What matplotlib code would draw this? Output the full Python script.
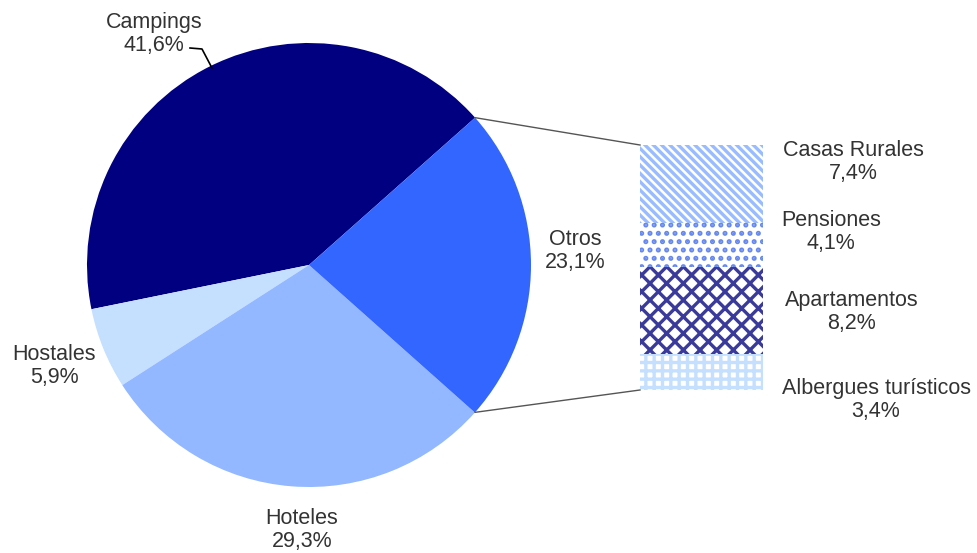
import matplotlib.pyplot as plt
import matplotlib as mpl
import numpy as np

plt.rcParams['font.family'] = ['Liberation Sans', 'DejaVu Sans']
mpl.rcParams['hatch.linewidth'] = 2.4

# Pie data
pie_labels = ['Campings', 'Hostales', 'Hoteles', 'Otros']
pie_values = [41.6, 5.9, 29.3, 23.1]
pie_colors = ['#000080', '#C5DFFF', '#93B8FF', '#3366FF']

# Breakdown of "Otros"
bar_labels = ['Casas Rurales', 'Pensiones', 'Apartamentos', 'Albergues turísticos']
bar_values = [7.4, 4.1, 8.2, 3.4]
bar_hatch_colors = ['#99BBFF', '#6688EE', '#3A3A9A', '#C5DFFF']
bar_hatches = ['\\\\\\\\', '..', 'xx', '++']

W, H = 978, 553
fig = plt.figure(figsize=(W / 100, H / 100), dpi=100)
ax = fig.add_axes([0, 0, 1, 1])

cx, cy, r = 309, H - 265, 222
start = 360 * pie_values[3] / 100 / 2
wedges, _ = ax.pie(pie_values, colors=pie_colors, startangle=start, counterclock=True,
                   center=(cx, cy), radius=r, frame=True)
ax.set_xlim(0, W)
ax.set_ylim(0, H)
ax.set_aspect('equal')
ax.axis('off')

# stacked bar in pixel units: 23.1% -> 245 px
scale = 245 / sum(bar_values)
bar_x, bar_w, bar_top = 640, 123, H - 145
y = bar_top
for v, hc, ht in zip(bar_values, bar_hatch_colors, bar_hatches):
    hgt = v * scale
    ax.bar(bar_x, -hgt, width=bar_w, bottom=y, align='edge', color='white',
           edgecolor=hc, hatch=ht, linewidth=0)
    y -= hgt
bar_bottom = y

# connector lines
a1 = np.deg2rad(start)
ax.plot([cx + r * np.cos(a1), bar_x], [cy + r * np.sin(a1), bar_top], color='#555555', lw=1)
ax.plot([cx + r * np.cos(-a1), bar_x], [cy + r * np.sin(-a1), bar_bottom], color='#555555', lw=1)

tc = '#333333'
fs = 15.5
def lab(x, y, name, val):
    ax.text(x, H - y, name + '\n' + ('%.1f' % val).replace('.', ',') + '%',
            ha='center', va='center', fontsize=fs, color=tc, linespacing=1.1)

lab(154, 34, pie_labels[0], pie_values[0])
lab(54, 366, pie_labels[1], pie_values[1])
lab(302, 530, pie_labels[2], pie_values[2])
lab(575, 251, pie_labels[3], pie_values[3])

# Campings leader line
ax.plot([190, 202, 212], [H - 48, H - 49, H - 68], color='black', lw=1.2)

bar_label_pos = [(853, 162), (831, 232), (852, 312), (876, 400)]
for (x, yy), n, v in zip(bar_label_pos, bar_labels, bar_values):
    lab(x, yy, n, v)

fig.savefig('out.png', dpi=100)
